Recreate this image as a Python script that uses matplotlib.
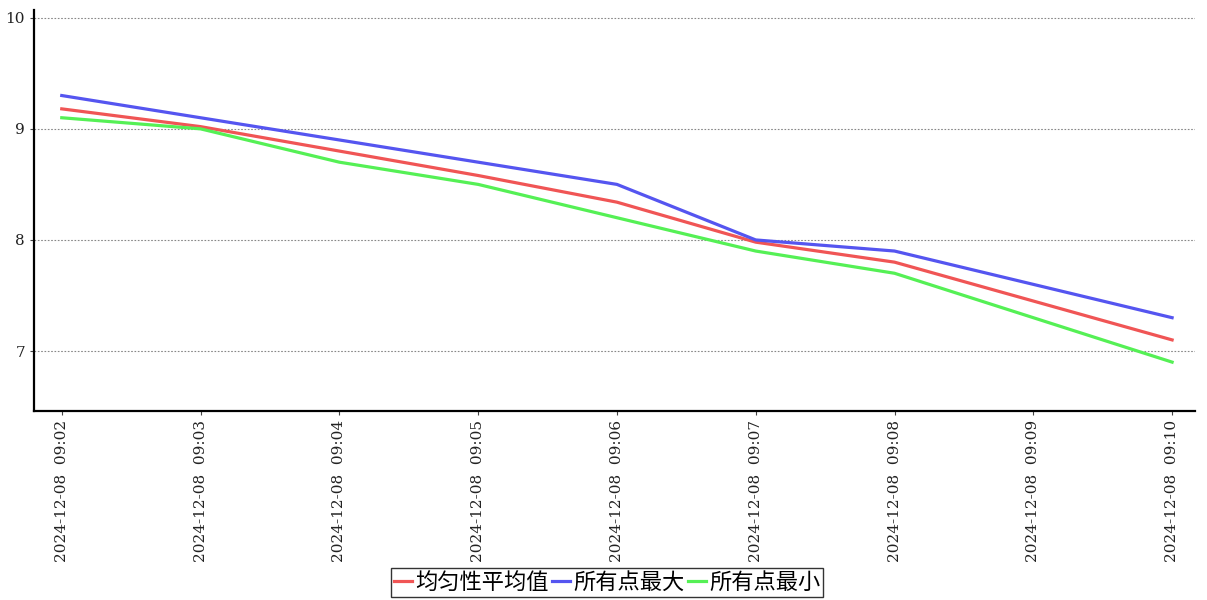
import matplotlib
matplotlib.use("Agg")
import matplotlib.pyplot as plt

times = ["2024-12-08  09:02", "2024-12-08  09:03", "2024-12-08  09:04", "2024-12-08  09:05",
         "2024-12-08  09:06", "2024-12-08  09:07", "2024-12-08  09:08", "2024-12-08  09:09",
         "2024-12-08  09:10"]
avg_vals = [9.18, 9.02, 8.80, 8.58, 8.34, 7.98, 7.80, 7.45, 7.10]
max_vals = [9.30, 9.10, 8.90, 8.70, 8.50, 8.00, 7.90, 7.60, 7.30]
min_vals = [9.10, 9.00, 8.70, 8.50, 8.20, 7.90, 7.70, 7.30, 6.90]
series_names = ["均匀性平均值", "所有点最大", "所有点最小"]
colors = ["#f05555", "#5555f0", "#55f055"]
yticks = [7, 8, 9, 10]

fig = plt.figure(figsize=(12.07, 6.0), dpi=100)
ax = fig.add_axes([34/1207, 1 - 411/600, (1195-34)/1207, (411-10)/600])

x = list(range(len(times)))
for vals, name, c in zip([avg_vals, max_vals, min_vals], series_names, colors):
    ax.plot(x, vals, color=c, lw=2.3, label=name, solid_joinstyle="miter")

ax.set_xlim(-0.2, len(times) - 1 + 0.165)
ax.set_ylim(6.46, 10.07)
ax.set_yticks(yticks)
ax.set_yticklabels([str(v) for v in yticks], family="DejaVu Serif", fontsize=11)
ax.set_xticks(x)
ax.set_xticklabels(times, rotation=90, family="DejaVu Serif", fontsize=11)
ax.grid(axis="y", color="#888888", linestyle=(0, (1.5, 1.5)), linewidth=0.8)
ax.set_axisbelow(True)
for s in ["top", "right"]:
    ax.spines[s].set_visible(False)
ax.spines["left"].set_linewidth(1.6)
ax.spines["bottom"].set_linewidth(1.6)
ax.tick_params(axis="both", length=3, width=0.8, color="#444444", labelcolor="#222222")

leg = fig.legend(loc="lower center", bbox_to_anchor=(0.503, 0.0), ncol=3,
                 prop={"family": ["Noto Sans CJK SC", "DejaVu Sans"], "size": 16},
                 frameon=True, fancybox=False, edgecolor="black", handlelength=0.8,
                 handletextpad=0.15, columnspacing=0.15, borderpad=0.12, borderaxespad=0.15)
leg.get_frame().set_linewidth(1.0)

fig.savefig("out.png", dpi=100)
